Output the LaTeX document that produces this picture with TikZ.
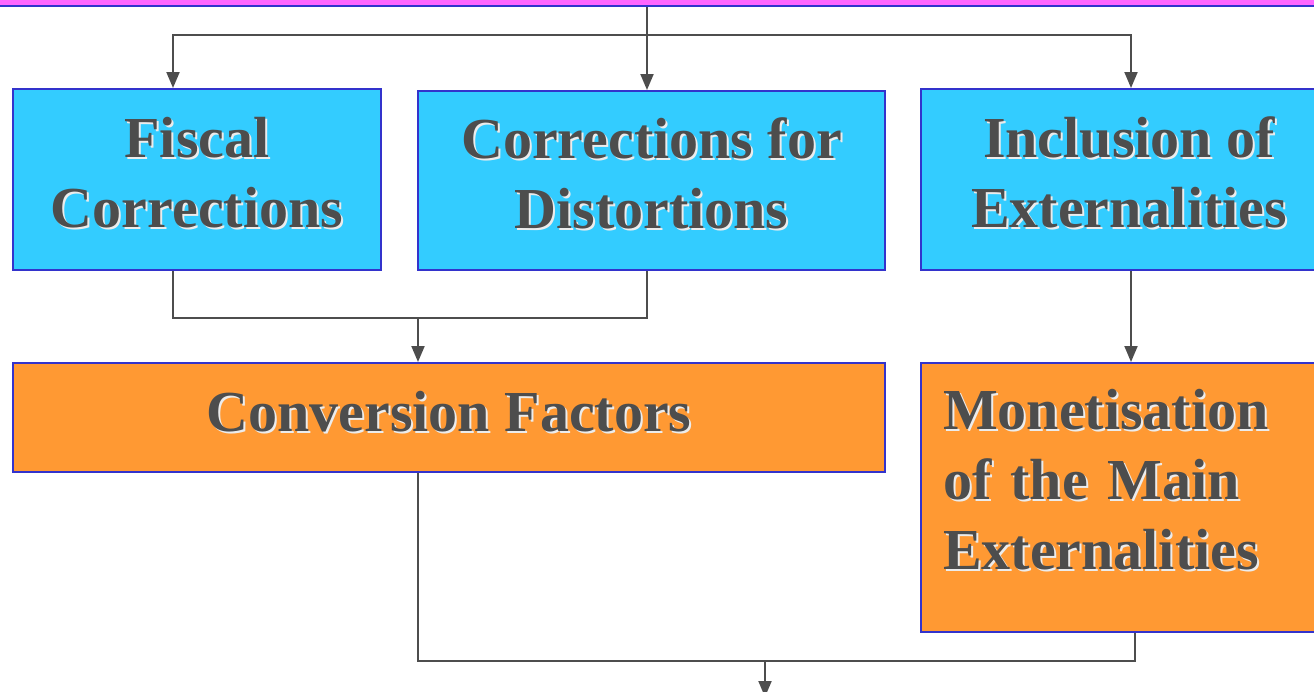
\documentclass[tikz,border=0pt]{standalone}
\usepackage{xcolor}
\usepackage{fontspec}
\setmainfont{Liberation Serif}
\usetikzlibrary{arrows.meta}
\definecolor{boxcyan}{HTML}{33CCFF}
\definecolor{boxorange}{HTML}{FF9933}
\definecolor{barpink}{HTML}{FF66FF}
\definecolor{edgeblue}{HTML}{3333CC}
\definecolor{ink}{HTML}{4D4D4D}
\newcommand\emb[1]{\leavevmode\rlap{\kern2pt\raisebox{-2pt}{\color{white!85!gray}#1}}#1}
\newcommand\lift[1]{\rule[-#1]{0pt}{#1}}
\tikzstyle{block} = [draw=edgeblue, line width=2pt, rectangle, text=ink,
font=\fontsize{58}{70}\selectfont\bfseries, align=center, inner sep=0pt]
\tikzstyle{cyanblock} = [block, fill=boxcyan, execute at end node=\lift{14pt}]
\tikzstyle{orangeblock} = [block, fill=boxorange]
\tikzstyle{line} = [draw=ink, line width=2pt]
\tikzstyle{arrow} = [line, -{Triangle[width=13pt,length=16pt]}]

\begin{document}
\begin{tikzpicture}[x=1pt, y=-1pt]
\useasboundingbox (0,0) rectangle (1314,691);
\clip (0,0) rectangle (1314,691);

% Place nodes
\node [block, fill=barpink, minimum width=1340pt, minimum height=40pt, anchor=south west] (topbar) at (-10,7) {};
\node [cyanblock, minimum width=368pt, minimum height=181pt] (fiscal) at (197,179.5) {\emb{Fiscal}\\\emb{Corrections}};
\node [cyanblock, minimum width=467pt, minimum height=179pt] (distort) at (651.5,180.5) {\emb{Corrections for}\\\emb{Distortions}};
\node [cyanblock, minimum width=416pt, minimum height=181pt] (incl) at (1129,179.5) {\emb{Inclusion of}\\\emb{Externalities}};
\node [orangeblock, minimum width=872pt, minimum height=109pt, execute at end node=\lift{12pt}] (conv) at (449,417.5) {\emb{Conversion Factors}};
\node [orangeblock, text width=372pt, inner xsep=22pt, align=left, minimum height=269pt, execute at end node=\lift{36pt}] (monet) at (1129,497.5) {\emb{Monetisation}\\\emb{of the Main}\\\emb{Externalities}};

% Place coordinates
\coordinate (split) at (647,35);
\coordinate (merge) at (418,318);
\coordinate (join) at (765,661);
\coordinate (result) at (765,697);

% Place lines
\draw [arrow] (topbar.south -| split) -- (split |- distort.north);
\draw [arrow] (split) -| ([xshift=-24pt]fiscal.north);
\draw [arrow] (split) -| ([xshift=2pt]incl.north);
\draw [line] ([xshift=-24pt]fiscal.south) |- (merge) -| ([xshift=-4.5pt]distort.south);
\draw [arrow] (merge) -- (merge |- conv.north);
\draw [arrow] ([xshift=2pt]incl.south) -- ([xshift=2pt]monet.north);
\draw [line] (merge |- conv.south) |- (join) -| ([xshift=6pt]monet.south);
\draw [arrow] (join) -- (result);

\end{tikzpicture}
\end{document}
